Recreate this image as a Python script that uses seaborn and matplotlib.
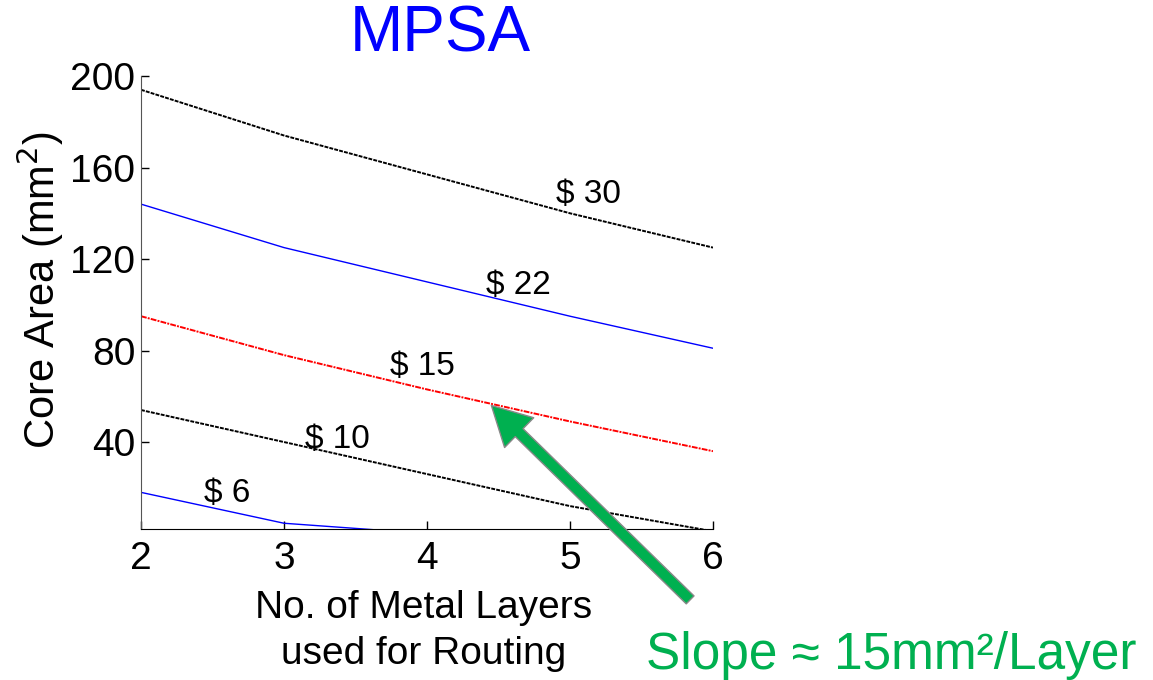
import pandas as pd
import seaborn as sns
import matplotlib.pyplot as plt

# values
layers = [2, 3, 4, 5, 6]
cost30 = [194, 174, 157, 140, 125]
cost22 = [144, 125, 110, 95, 81]
cost15 = [95, 78, 63, 49, 36]
cost10 = [54, 40, 26, 12, 1]
layers6 = [2, 3, 4]
cost6 = [18, 4.5, 0]
labels = ['$ 30', '$ 22', '$ 15', '$ 10', '$ 6']

sns.set_style('ticks', {'text.color': 'black', 'axes.labelcolor': 'black',
                        'xtick.color': 'black', 'ytick.color': 'black'})
plt.rcParams['font.family'] = ['Liberation Sans', 'DejaVu Sans']

rows = []
for lab, xs, ys in zip(labels, [layers] * 4 + [layers6], [cost30, cost22, cost15, cost10, cost6]):
    for x, y in zip(xs, ys):
        rows.append({'layers': x, 'area': y, 'cost': lab})
df = pd.DataFrame(rows)

fig = plt.figure(figsize=(11.53, 6.8), dpi=100)
ax = fig.add_axes([0.1223, 0.2221, 0.4961, 0.6661])

styles = {
    '$ 30': ('black', (0, (2, 0.6)), 1.4),
    '$ 22': ('blue', '-', 1.0),
    '$ 15': ('red', (0, (3, 0.6, 1, 0.6)), 1.4),
    '$ 10': ('black', (0, (2, 0.6)), 1.4),
    '$ 6': ('blue', '-', 1.0),
}
for lab in labels:
    c, ls, w = styles[lab]
    sns.lineplot(data=df[df['cost'] == lab], x='layers', y='area', color=c,
                 linestyle=ls, lw=w, ax=ax, legend=False)

# curve labels
lab_pos = {'$ 30': (5.13, 148), '$ 22': (4.64, 108.6), '$ 15': (3.97, 73.2),
           '$ 10': (3.37, 40.9), '$ 6': (2.60, 17.7)}
for lab, (x, y) in lab_pos.items():
    ax.text(x, y, lab, fontsize=24, ha='center', va='center', color='black')

ax.set_xlim(2, 6)
ax.set_ylim(2, 200)
ax.set_xticks([2, 3, 4, 5, 6])
ax.set_yticks([40, 80, 120, 160, 200])
ax.tick_params(direction='in', labelsize=28, length=6, width=1, colors='black')
ax.tick_params(axis='x', pad=9)
ax.tick_params(axis='y', pad=4)
ax.set_xlabel('')
ax.set_ylabel('')
sns.despine(ax=ax)
ax.spines['left'].set_color('#555555')
ax.spines['bottom'].set_color('black')

fig.text(40 / 1153, 1 - 290 / 680, 'Core Area (mm$^2$)', rotation=90,
         fontsize=30, ha='center', va='center')
fig.text(424 / 1153, 1 - 631 / 680, 'No. of Metal Layers\nused for Routing',
         fontsize=28, ha='center', va='center', linespacing=1.35)
fig.text(440 / 1153, 1 - 35 / 680, 'MPSA', fontsize=46, color='blue',
         ha='center', va='center')

ax.annotate('', xy=(4.45, 56), xytext=(5.84, -29), xycoords='data',
            annotation_clip=False,
            arrowprops=dict(arrowstyle='simple,head_width=1.5,head_length=1.4,tail_width=0.4',
                            fc='#00b050', ec='#888888', lw=1, shrinkA=0, shrinkB=0,
                            mutation_scale=20))
fig.text(891 / 1153, 1 - 669 / 680, 'Slope \u2248 15mm\u00b2/Layer', fontsize=37,
         color='#00b050', ha='center', va='baseline')

fig.savefig('out.png', dpi=100)
